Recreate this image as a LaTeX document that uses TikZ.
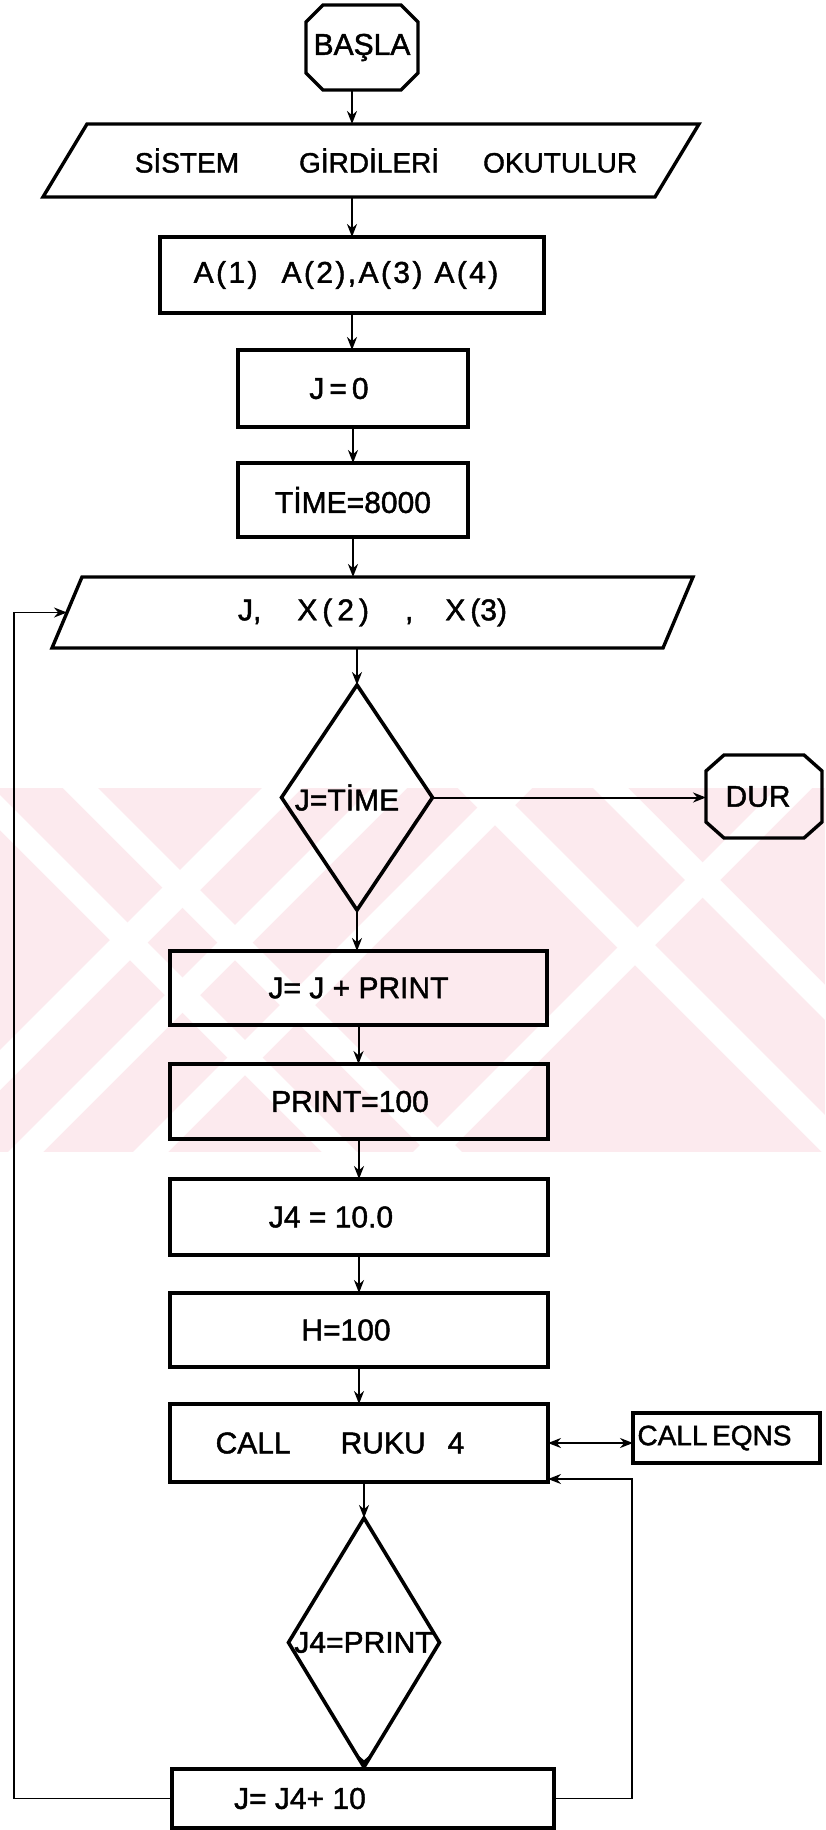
\documentclass[tikz,border=0pt]{standalone}
\usepackage{fontspec}
\setmainfont{Liberation Sans}[FakeBold=1.5]
\usetikzlibrary{shapes.geometric,arrows.meta,calc}
\newcommand\mytx[1]{\makebox[0pt]{#1}}
\newcommand\wmback[2]{\fill[white] (-400,{-400+#1}) -- (1300,{1300+#1}) -- (1300,{1300+#2}) -- (-400,{-400+#2}) -- cycle;}
\newcommand\wmfwd[2]{\fill[white] (-400,{#1+400}) -- (1300,{#1-1300}) -- (1300,{#2-1300}) -- (-400,{#2+400}) -- cycle;}
\definecolor{wmpink}{RGB}{252,234,238}
\begin{document}
\begin{tikzpicture}[x=0.5pt,y=-0.5pt,
  font=\fontsize{15pt}{18pt}\selectfont,
  box/.style={draw, line width=1.7pt, rectangle, inner sep=0pt, outer sep=0pt},
  ghost/.style={rectangle, inner sep=0pt, outer sep=0pt},
  dia/.style={draw, line width=1.8pt, diamond, inner sep=0pt, outer sep=0pt},
  outl/.style={draw, line width=1.7pt, line join=miter},
  arr/.style={-{Stealth[length=6.5pt,width=5pt]}, line width=1pt},
  loop/.style={-{Stealth[length=6.5pt,width=5pt]}, line width=0.9pt}]
\useasboundingbox (0,0) rectangle (825,1830);
% watermark
\begin{scope}
  \clip (0,788) rectangle (825,1152);
  \fill[wmpink] (0,788) rectangle (825,1152);
  \wmback{690}{725}
  \wmback{795}{830}
  \wmback{160}{195}
  \wmback{290}{330}
  \wmfwd{1050}{1090}
  \wmfwd{1160}{1195}
  \wmfwd{1285}{1320}
  \wmfwd{1565}{1600}
\end{scope}
% nodes
\node[ghost, minimum width=56pt, minimum height=42.5pt] (basla) at (362,47.5) {\mytx{BAŞLA}};
\node[ghost, minimum width=328pt, minimum height=36.5pt] (p1) at (371,160.5)
  {\mytx{\fontsize{14pt}{17pt}\selectfont\hspace*{15pt}SİSTEM\hspace{30pt}GİRDİLERİ\hspace{22pt}OKUTULUR}};
\node[box, minimum width=192pt, minimum height=38pt] (boxa) at (352,275)
  {\mytx{\addfontfeature{LetterSpace=8}A(1)\hspace{12pt}A(2),A(3)\hspace{6pt}A(4)\hspace*{6pt}}};
\node[box, minimum width=115pt, minimum height=38.5pt] (j0) at (353,388.5) {\mytx{J\,=\,0\hspace*{14pt}}};
\node[box, minimum width=115pt, minimum height=37pt] (time) at (353,500) {\mytx{TİME=8000}};
\node[ghost, minimum width=320.5pt, minimum height=35.5pt] (p2) at (372.5,612.5)
  {\mytx{J,\hspace{18pt}X\,(\,2\,)\hspace{18pt},\hspace{16pt}X\,(3)}};
\node[dia, minimum width=75.5pt, minimum height=112.5pt] (d1) at (357,797.5) {\mytx{J=TİME\hspace*{10pt}}};
\node[ghost, minimum width=58pt, minimum height=41.5pt] (dur) at (764,796.5) {\mytx{DUR\hspace*{6pt}}};
\node[box, minimum width=188.5pt, minimum height=37pt] (jjp) at (358.5,988) {\mytx{J= J + PRINT}};
\node[box, minimum width=189pt, minimum height=37.5pt] (pr) at (359,1101.5) {\mytx{PRINT=100\hspace*{9pt}}};
\node[box, minimum width=189pt, minimum height=38pt] (j4) at (359,1217) {\mytx{J4 = 10.0\hspace*{28pt}}};
\node[box, minimum width=189pt, minimum height=37pt] (h) at (359,1330) {\mytx{H=100\hspace*{13pt}}};
\node[box, minimum width=189pt, minimum height=39pt] (ruku) at (359,1443) {\mytx{CALL\hspace{25pt}RUKU\hspace{11pt}4\hspace*{19pt}}};
\node[box, minimum width=93.5pt, minimum height=25pt] (eqns) at (726.5,1438) {\mytx{\fontsize{14pt}{17pt}\selectfont CALL\,EQNS\hspace*{12pt}}};
\node[dia, minimum width=75.5pt, minimum height=124.5pt] (d2) at (364,1642.5) {\mytx{J4=PRINT}};
\node[box, minimum width=191pt, minimum height=29.5pt] (j10) at (363,1798.5) {\mytx{J= J4+ 10\hspace*{63pt}}};
% outlines of terminals and input shapes
\draw[outl] ($(basla.north west)+(17,0)$) -- ($(basla.north east)+(-17,0)$) -- ($(basla.north east)+(0,17)$)
  -- ($(basla.south east)+(0,-17)$) -- ($(basla.south east)+(-17,0)$) -- ($(basla.south west)+(17,0)$)
  -- ($(basla.south west)+(0,-17)$) -- ($(basla.north west)+(0,17)$) -- cycle;
\draw[outl] ($(dur.north west)+(18,0)$) -- ($(dur.north east)+(-18,0)$) -- ($(dur.north east)+(0,16)$)
  -- ($(dur.south east)+(0,-16)$) -- ($(dur.south east)+(-18,0)$) -- ($(dur.south west)+(18,0)$)
  -- ($(dur.south west)+(0,-16)$) -- ($(dur.north west)+(0,16)$) -- cycle;
\draw[outl] ($(p1.north west)+(44,0)$) -- (p1.north east) -- ($(p1.south east)+(-44,0)$) -- (p1.south west) -- cycle;
\draw[outl] ($(p2.north west)+(30,0)$) -- (p2.north east) -- ($(p2.south east)+(-30,0)$) -- (p2.south west) -- cycle;
% helper coordinates
\coordinate (p2in) at ($(p2.north west)!0.5!(p2.south west)+(15,0)$);
\coordinate (lx) at (14,0);
\coordinate (rx) at (632,0);
\coordinate (rin) at ($(ruku.south east)+(0,-3)$);
% connectors
\draw[arr] (basla.south -| boxa.north) -- (p1.north -| boxa.north);
\draw[arr] (p1.south -| boxa.north) -- (boxa.north);
\draw[arr] (boxa.south) -- (boxa.south |- j0.north);
\draw[arr] (j0.south) -- (j0.south |- time.north);
\draw[arr] (time.south) -- (time.south |- p2.north);
\draw[arr] (p2.south -| d1.north) -- (d1.north);
\draw[arr] (d1.east) -- (d1.east -| dur.west);
\draw[arr] (d1.south) -- (d1.south |- jjp.north);
\draw[arr] (jjp.south) -- (jjp.south |- pr.north);
\draw[arr] (pr.south) -- (pr.south |- j4.north);
\draw[arr] (j4.south) -- (j4.south |- h.north);
\draw[arr] (h.south) -- (h.south |- ruku.north);
\draw[{Stealth[length=6.5pt,width=5pt]}-{Stealth[length=6.5pt,width=5pt]}, line width=1pt] (ruku.east) -- (ruku.east -| eqns.west);
\draw[arr] (ruku.south -| d2.north) -- (d2.north);
\draw[arr] (d2.south) -- (d2.south |- j10.north);
\draw[loop] (j10.west) -- (j10.west -| lx) -- (lx |- p2in) -- (p2in);
\draw[loop] (j10.east) -- (j10.east -| rx) -- (rx |- rin) -- (rin);
\end{tikzpicture}
\end{document}
